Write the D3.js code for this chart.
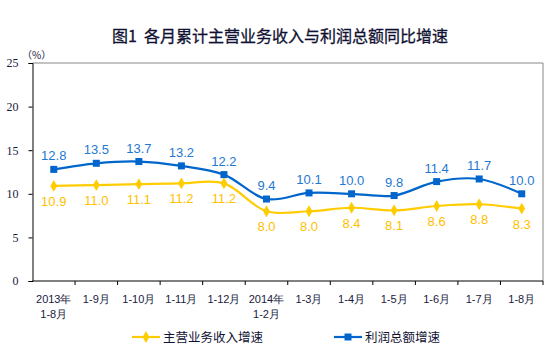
<!DOCTYPE html>
<html>
<head>
<meta charset="utf-8">
<script src="https://cdn.jsdelivr.net/npm/d3@7"></script>
<style>
  body { margin: 0; background: #fff; }
  svg { display: block; }
</style>
</head>
<body>
<svg width="554" height="352"></svg>
<script>
(function () {

  // month labels (two-line ones split with \n)
  var months = ['2013年\n1-8月', '1-9月', '1-10月', '1-11月', '1-12月', '2014年\n1-2月',
                '1-3月', '1-4月', '1-5月', '1-6月', '1-7月', '1-8月']
  var revenue = [10.9, 11.0, 11.1, 11.2, 11.2, 8.0, 8.0, 8.4, 8.1, 8.6, 8.8, 8.3]
  var profit = [12.8, 13.5, 13.7, 13.2, 12.2, 9.4, 10.1, 10.0, 9.8, 11.4, 11.7, 10.0]
  var yTicks = [0, 5, 10, 15, 20, 25]

  var blue = '#0066cc'
  var yellow = '#ffcc00'
  var inkColor = '#1a1a40'

  var left = 32.5, right = 543, top = 63, bottom = 281

  var svg = d3.select('svg')

  var x = d3.scaleBand().domain(d3.range(months.length)).range([left, right])
  var y = d3.scaleLinear().domain([0, 25]).range([bottom, top])

  // title (non-breaking spaces keep the gap after 图1)
  svg.append('text')
    .attr('x', 280).attr('y', 42)
    .attr('text-anchor', 'middle')
    .attr('font-family', 'Noto Sans CJK SC')
    .attr('font-size', 16)
    .attr('fill', '#111133')
    .attr('stroke', '#111133')
    .attr('stroke-width', 0.3)
    .text('图1\u00a0\u00a0各月累计主营业务收入与利润总额同比增速')

  svg.append('text')
    .attr('x', 22).attr('y', 59)
    .attr('font-family', 'Noto Sans CJK SC')
    .attr('font-size', 10)
    .attr('fill', inkColor)
    .text('（%）')

  // plot frame (top + right in grey)
  svg.append('path')
    .attr('d', 'M' + left + ',' + top + 'H' + right + 'V' + bottom)
    .attr('fill', 'none')
    .attr('stroke', '#888')
    .attr('stroke-width', 1)

  // y axis
  var yAxis = svg.append('g')
    .attr('transform', 'translate(' + left + ',0)')
    .call(d3.axisLeft(y).tickValues(yTicks).tickSize(4).tickPadding(10))
  yAxis.select('.domain').attr('stroke', '#000')
  yAxis.selectAll('.tick line').attr('stroke', '#000')
  yAxis.selectAll('.tick text')
    .attr('font-family', 'Liberation Serif')
    .attr('font-size', 12)
    .attr('fill', inkColor)

  // x axis: ticks at band edges, labels at band centres
  var xAxis = svg.append('g')
    .attr('transform', 'translate(0,' + bottom + ')')
  xAxis.append('line')
    .attr('x1', left).attr('x2', right)
    .attr('stroke', '#000')
  xAxis.selectAll('.xtick')
    .data(d3.range(1, months.length + 1))
    .enter().append('line')
    .attr('x1', d => x(0) + d * x.bandwidth())
    .attr('x2', d => x(0) + d * x.bandwidth())
    .attr('y1', 0).attr('y2', 4)
    .attr('stroke', '#000')
  var xLabels = xAxis.selectAll('.xlabel')
    .data(months)
    .enter().append('text')
    .attr('text-anchor', 'middle')
    .attr('font-family', 'Liberation Sans')
    .attr('font-size', 11)
    .attr('fill', inkColor)
  xLabels.each(function (d, i) {
    var t = d3.select(this)
    d.split('\n').forEach(function (part, k) {
      t.append('tspan')
        .attr('x', x(i) + x.bandwidth() / 2)
        .attr('y', 22 + k * 15)
        .text(part)
    })
  })

  var cx = i => x(i) + x.bandwidth() / 2
  var line = d3.line()
    .x((d, i) => cx(i))
    .y(d => y(d))
    .curve(d3.curveCatmullRom)

  // revenue series (yellow diamonds)
  svg.append('path')
    .datum(revenue)
    .attr('d', line)
    .attr('fill', 'none')
    .attr('stroke', yellow)
    .attr('stroke-width', 2.2)
  svg.selectAll('.rev')
    .data(revenue)
    .enter().append('path')
    .attr('d', d3.symbol(d3.symbolDiamond, 40))
    .attr('transform', (d, i) => 'translate(' + cx(i) + ',' + y(d) + ')')
    .attr('fill', yellow)
  svg.selectAll('.revlabel')
    .data(revenue)
    .enter().append('text')
    .attr('x', (d, i) => cx(i))
    .attr('y', d => y(d) + 20)
    .attr('text-anchor', 'middle')
    .attr('font-family', 'Liberation Sans')
    .attr('font-size', 13)
    .attr('fill', '#ffc000')
    .text(d => d.toFixed(1))

  // profit series (blue squares)
  svg.append('path')
    .datum(profit)
    .attr('d', line)
    .attr('fill', 'none')
    .attr('stroke', blue)
    .attr('stroke-width', 2.2)
  svg.selectAll('.prof')
    .data(profit)
    .enter().append('rect')
    .attr('x', (d, i) => cx(i) - 3.5)
    .attr('y', d => y(d) - 3.5)
    .attr('width', 7).attr('height', 7)
    .attr('fill', blue)
  svg.selectAll('.proflabel')
    .data(profit)
    .enter().append('text')
    .attr('x', (d, i) => cx(i))
    .attr('y', d => y(d) - 9)
    .attr('text-anchor', 'middle')
    .attr('font-family', 'Liberation Sans')
    .attr('font-size', 13)
    .attr('fill', '#1f78d1')
    .text(d => d.toFixed(1))

  // legend
  var legend = [
    { name: '主营业务收入增速', color: yellow, shape: 'diamond', x: 132 },
    { name: '利润总额增速', color: blue, shape: 'square', x: 334 }
  ]
  var lg = svg.selectAll('.legend')
    .data(legend)
    .enter().append('g')
    .attr('transform', d => 'translate(' + d.x + ',337)')
  lg.append('line')
    .attr('x1', 0).attr('x2', 28)
    .attr('stroke', d => d.color)
    .attr('stroke-width', 2.2)
  lg.append('path')
    .attr('d', d => d.shape === 'diamond'
      ? d3.symbol(d3.symbolDiamond, 40)()
      : 'M-3.5,-3.5h7v7h-7z')
    .attr('transform', 'translate(14,0)')
    .attr('fill', d => d.color)
  lg.append('text')
    .attr('x', 31).attr('y', 5)
    .attr('font-family', 'Noto Sans CJK SC')
    .attr('font-size', 12.5)
    .attr('fill', '#111133')
    .text(d => d.name)

})()
</script>
</body>
</html>
